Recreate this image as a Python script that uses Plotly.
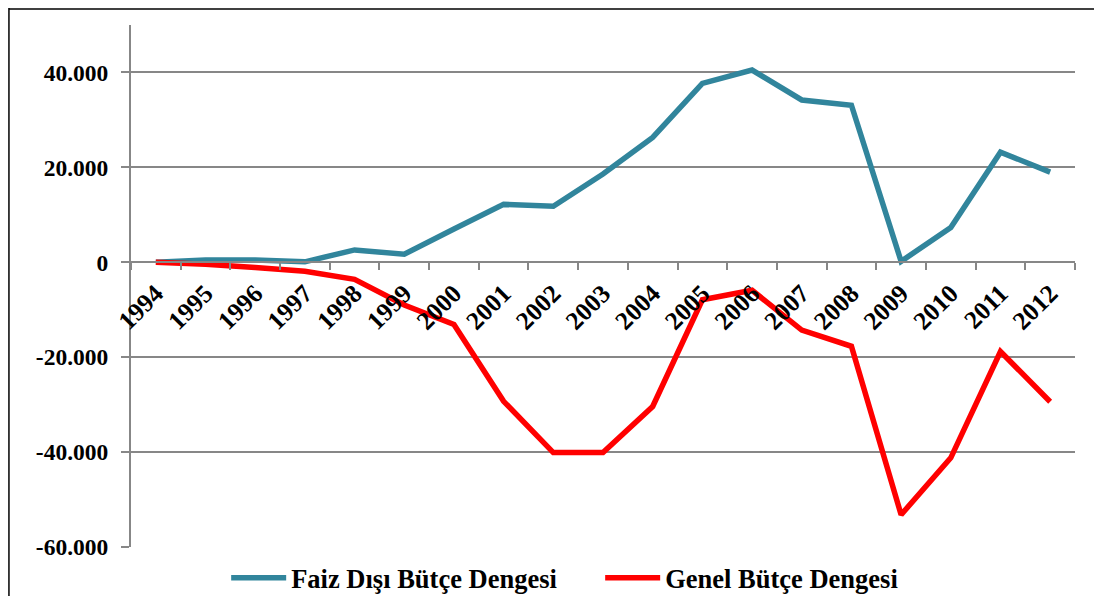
import plotly.graph_objects as go

years = [str(y) for y in range(1994, 2013)]
faiz_disi = [0, 500, 500, 100, 2600, 1700, 7000, 12200, 11800, 18600, 26300,
             37700, 40500, 34200, 33100, 200, 7300, 23200, 19000]
genel = [0, -400, -1100, -1900, -3600, -9000, -13100, -29300, -40100, -40100, -30400,
         -7900, -5900, -14300, -17700, -53200, -41200, -18800, -29400]
y_tickvals = [-60000, -40000, -20000, 0, 20000, 40000]
y_ticktext = ["-60.000", "-40.000", "-20.000", "0", "20.000", "40.000"]
series_names = ["Faiz Dışı Bütçe Dengesi", "Genel Bütçe Dengesi"]

FONT = "Liberation Serif"
OFF = 8  # page body margin
W, H = 1102 - OFF, 596 - OFF
ml, mr, mt, mb = 131 - OFF, 1102 - 1075, 25 - OFF, 596 - 547
pw, ph = W - ml - mr, H - mt - mb

fig = go.Figure()
fig.add_trace(go.Scatter(x=years, y=faiz_disi, mode="lines", name=series_names[0],
                         line=dict(color="#31859C", width=5.5)))
fig.add_trace(go.Scatter(x=years, y=genel, mode="lines", name=series_names[1],
                         line=dict(color="#FF0000", width=5.5)))

fig.update_layout(
    template="none",
    width=W, height=H,
    margin=dict(l=ml, r=mr, t=mt, b=mb, pad=0, autoexpand=False),
    paper_bgcolor="white", plot_bgcolor="white",
    font=dict(family=FONT, color="black", size=24, weight="bold"),
    showlegend=True,
    legend=dict(orientation="h", x=0.497, xanchor="center", y=(mt + ph - (578 - OFF)) / ph,
                yanchor="middle", font=dict(family=FONT, size=26.5, weight="bold"),
                itemwidth=55, entrywidth=304, bgcolor="rgba(0,0,0,0)"),
    xaxis=dict(type="category", anchor="free", position=60000 / 110000,
               automargin=False,
               showline=True, linecolor="#878787", linewidth=2,
               ticks="outside", ticklen=7, tickwidth=2, tickcolor="#878787",
               tickson="boundaries", tickangle=-45, showgrid=False,
               ticklabelstandoff=5,
               tickfont=dict(family=FONT, size=25.5, weight="bold"),
               range=[-0.5, 18.5]),
    yaxis=dict(range=[-60000, 50000], tickvals=y_tickvals, ticktext=y_ticktext,
               automargin=False,
               showline=True, linecolor="#878787", linewidth=2,
               ticks="outside", ticklen=8, tickwidth=2, tickcolor="#878787",
               showgrid=True, gridcolor="#878787", gridwidth=2, zeroline=False,
               ticklabelstandoff=8,
               tickfont=dict(family=FONT, size=23.5, weight="bold")),
)

# outer chart border (top and left edges visible)
fig.add_shape(type="line", xref="paper", yref="paper", x0=-ml / pw + 0.001, x1=1.2,
              y0=(ph + mt - 1) / ph, y1=(ph + mt - 1) / ph,
              line=dict(color="black", width=1.5))
fig.add_shape(type="line", xref="paper", yref="paper", x0=-ml / pw + 0.001, x1=-ml / pw + 0.001,
              y0=(ph + mt) / ph, y1=-0.3, line=dict(color="black", width=1.5))

fig.write_html("out.html")
